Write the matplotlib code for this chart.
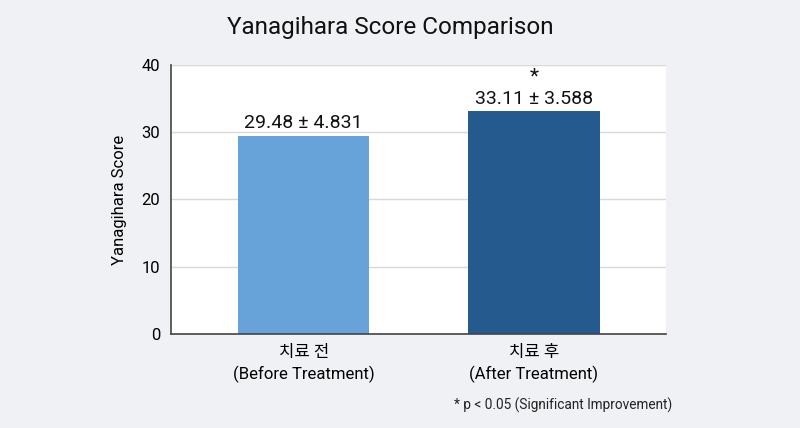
import matplotlib.pyplot as plt

# data
categories = ['치료 전\n(Before Treatment)', '치료 후\n(After Treatment)']
means = [29.48, 33.11]
sds = [4.831, 3.588]
marks = ['', '*']
colors = ['#67a3d9', '#245a8d']

plt.rcParams['font.family'] = ['Roboto', 'Noto Sans CJK KR', 'DejaVu Sans']

fig = plt.figure(figsize=(8, 4.28), dpi=100, facecolor='#eff1f4')
ax = fig.add_axes([0.214, 0.22, 0.619, 0.628])
ax.set_facecolor('white')

x = range(len(categories))
ax.bar(x, means, width=0.57, color=colors, zorder=2)

for i, (m, s) in enumerate(zip(means, sds)):
    ax.text(i, m + 0.5, f'{m:.2f} ± {s:.3f}', ha='center', va='bottom',
            fontsize=14, color='#111111')
    if marks[i]:
        ax.text(i, m + 3.7, marks[i], ha='center', va='bottom',
                fontsize=15, color='#111111')

ax.set_xlim(-0.575, 1.575)
ax.set_ylim(0, 40)
ax.set_yticks([0, 10, 20, 30, 40])
ax.set_xticks(list(x))
ax.set_xticklabels(categories, fontsize=12, linespacing=1.4)
ax.tick_params(axis='y', labelsize=12, length=0, pad=8)
ax.tick_params(axis='x', length=0, pad=8)
ax.set_ylabel('Yanagihara Score', fontsize=12, labelpad=10)

ax.grid(axis='y', color='#d8d8d8', linewidth=1, zorder=0)
for side in ['top', 'right']:
    ax.spines[side].set_visible(False)
for side in ['left', 'bottom']:
    ax.spines[side].set_color('#444444')
    ax.spines[side].set_linewidth(1.2)

fig.text(0.488, 0.935, 'Yanagihara Score Comparison', ha='center', va='center',
         fontsize=17.5, color='#111111')
fig.text(0.84, 0.052, '* p < 0.05 (Significant Improvement)', ha='right',
         va='center', fontsize=9.8, color='#222222')

fig.savefig('out.png', dpi=100, facecolor=fig.get_facecolor())
